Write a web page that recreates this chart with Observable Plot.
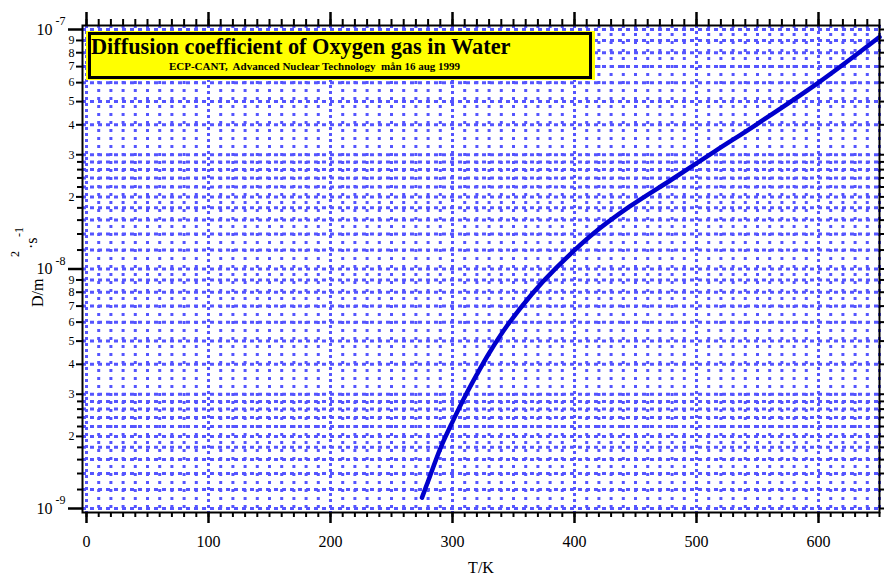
<!DOCTYPE html>
<html><head><meta charset="utf-8">
<script src="https://cdn.jsdelivr.net/npm/d3@7"></script>
<script src="https://cdn.jsdelivr.net/npm/@observablehq/plot@0.6"></script>
<style>html,body{margin:0;padding:0;background:#fff;}</style>
</head><body><div id="chart"></div>
<script>
// ---- data ----
const temperatureK = [275, 280, 290, 300, 310, 320, 330, 345, 365, 385, 415, 445, 480, 515, 550, 600, 650];
const diffusion = [1.11e-9, 1.30e-9, 1.78e-9, 2.30e-9, 2.92e-9, 3.63e-9, 4.45e-9, 5.82e-9, 7.85e-9, 1.01e-8, 1.40e-8, 1.82e-8, 2.37e-8, 3.10e-8, 4.04e-8, 6.00e-8, 9.30e-8];

// ---- ticks ----
const xMajorTicks = [0, 100, 200, 300, 400, 500, 600];
const xMinorTicks = [0,10,20,30,40,50,60,70,80,90,100,110,120,130,140,150,160,170,180,190,200,210,220,230,240,250,260,270,280,290,300,310,320,330,340,350,360,370,380,390,400,410,420,430,440,450,460,470,480,490,500,510,520,530,540,550,560,570,580,590,600,610,620,630,640,650];
const decades = [1e-9, 1e-8, 1e-7];
const decadeExponents = ["-9", "-8", "-7"];
const labeledMantissas = [2, 3, 4, 5, 6, 7, 8, 9];
const unlabeledMantissas = [1.2, 1.4, 1.6, 1.8, 2.2, 2.4, 2.6, 2.8];

const title = "Diffusion coefficient of Oxygen gas in Water";
const subtitle = "ECP-CANT,  Advanced Nuclear Technology  mån 16 aug 1999";
const xLabel = "T/K";

const data = temperatureK.map((t, i) => ({t, d: diffusion[i]}));
const lowerDecades = decades.slice(0, 2);
const yLabeled = lowerDecades.flatMap(d => labeledMantissas.map(m => ({value: m * d, label: String(m)})));
const yUnlabeled = lowerDecades.flatMap(d => unlabeledMantissas.map(m => m * d));
const yGrid = [...decades, ...yLabeled.map(r => r.value), ...yUnlabeled];
const yAllTicks = yGrid;
const decadeRows = decades.map((d, i) => ({value: d, exp: decadeExponents[i]}));

const gridColor = "#5555ff";

const chart = Plot.plot({
  width: 884,
  height: 575,
  marginLeft: 82,
  marginRight: 5,
  marginTop: 25,
  marginBottom: 63,
  style: {fontFamily: "'Liberation Serif', 'DejaVu Serif', serif", fontSize: "16px", background: "white", overflow: "visible", color: "black"},
  x: {domain: [0, 650], insetLeft: 4},
  y: {type: "log", domain: [1e-9, 1e-7], insetTop: 4, insetBottom: 4},
  marks: [
    // grid
    Plot.ruleX(xMinorTicks.filter(v => v % 100 !== 0), {stroke: gridColor, strokeWidth: 3, strokeDasharray: "3,5"}),
    Plot.ruleX(xMajorTicks, {stroke: gridColor, strokeWidth: 3, strokeDasharray: "3,3"}),
    Plot.ruleY(yGrid, {stroke: gridColor, strokeWidth: 3, strokeDasharray: "4,4"}),
    // curve
    Plot.line(data, {x: "t", y: "d", stroke: "#0000cc", strokeWidth: 4.5, curve: "catmull-rom"}),
    // frame
    Plot.frame({stroke: "black", strokeWidth: 2}),
    // bottom axis
    Plot.axisX(xMinorTicks, {anchor: "bottom", tickSize: 5, strokeWidth: 2, fill: "none", label: null}),
    Plot.axisX(xMajorTicks, {anchor: "bottom", tickSize: 11, tickPadding: 12, strokeWidth: 2.5, fontSize: 16, label: null}),
    // top axis
    Plot.axisX(xMinorTicks, {anchor: "top", tickSize: 7, strokeWidth: 2, fill: "none", label: null}),
    Plot.axisX(xMajorTicks, {anchor: "top", tickSize: 14, strokeWidth: 2.5, fill: "none", label: null}),
    // left axis
    Plot.axisY(decades, {anchor: "left", tickSize: 14, strokeWidth: 2.5, fill: "none", label: null}),
    Plot.axisY(yLabeled.map(r => r.value), {anchor: "left", tickSize: 6, strokeWidth: 2, fill: "none", label: null}),
    Plot.axisY(yUnlabeled, {anchor: "left", tickSize: 5, strokeWidth: 2, fill: "none", label: null}),
    // right axis
    Plot.axisY(yAllTicks, {anchor: "right", tickSize: 5, strokeWidth: 2, fill: "none", label: null}),
    // y tick labels
    Plot.text(decadeRows, {y: "value", text: () => "10", frameAnchor: "left", dx: -30, textAnchor: "end", lineAnchor: "middle", fontSize: 16}),
    Plot.text(decadeRows, {y: "value", text: "exp", frameAnchor: "left", dx: -27, dy: -8, textAnchor: "start", lineAnchor: "middle", fontSize: 12}),
    Plot.text(yLabeled, {y: "value", text: "label", frameAnchor: "left", dx: -8, textAnchor: "end", lineAnchor: "middle", fontSize: 12}),
    // x label
    Plot.text([xLabel], {text: d => d, frameAnchor: "bottom", dy: 60, lineAnchor: "bottom", fontSize: 16})
  ]
});

const svg = d3.select(chart);
// title box
const g = svg.append("g").attr("text-anchor", "start");
g.append("rect").attr("x", 86).attr("y", 31).attr("width", 509).attr("height", 49).attr("fill", "#ffff00");
g.append("rect").attr("x", 89.5).attr("y", 33.5).attr("width", 501).attr("height", 44).attr("fill", "none").attr("stroke", "black").attr("stroke-width", 3);
g.append("text").attr("x", 91).attr("y", 53.5).attr("text-anchor", "start").attr("font-size", 22.3).attr("font-weight", "bold").attr("fill", "black").text(title);
g.append("text").attr("x", 314.5).attr("y", 70).attr("text-anchor", "middle").attr("font-size", 11).attr("font-weight", "bold").attr("fill", "black").style("white-space", "pre").text(subtitle);

// y axis title (rotated)
const yt = svg.append("g").attr("fill", "black").attr("text-anchor", "start");
const parts = [
  {t: "D/m", x: 43, y: 307, s: 16},
  {t: "2", x: 18.5, y: 257, s: 12},
  {t: "·s", x: 37, y: 249, s: 16},
  {t: "-1", x: 23, y: 237, s: 12}
];
for (const p of parts) {
  yt.append("text").attr("transform", `translate(${p.x},${p.y}) rotate(-90)`).attr("text-anchor", "start").attr("font-size", p.s).text(p.t);
}

document.getElementById("chart").appendChild(chart);
</script>
</body></html>
